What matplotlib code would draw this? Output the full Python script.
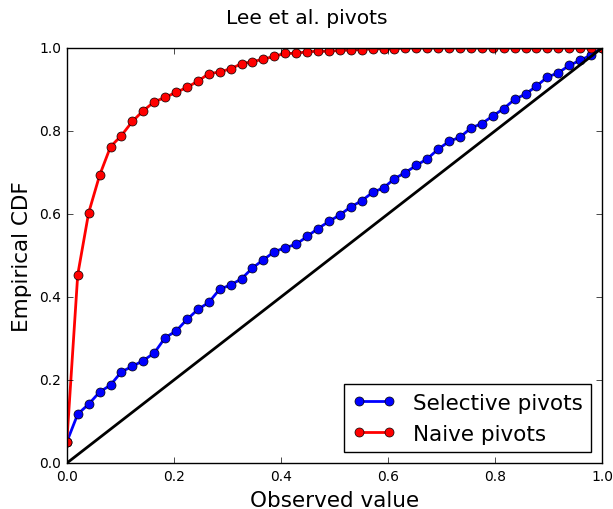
import numpy as np
import matplotlib
matplotlib.use("Agg")
import matplotlib.pyplot as plt

# grid of observed values (50 points from 0 to 1)
grid = np.linspace(0, 1, 50)

# empirical CDF values
selective_cdf = [0.051, 0.118, 0.142, 0.171, 0.188, 0.220, 0.233, 0.247, 0.265, 0.302,
                 0.318, 0.346, 0.370, 0.387, 0.419, 0.429, 0.444, 0.470, 0.490, 0.509,
                 0.519, 0.527, 0.546, 0.565, 0.582, 0.598, 0.617, 0.632, 0.652, 0.663,
                 0.685, 0.700, 0.717, 0.733, 0.756, 0.775, 0.785, 0.807, 0.818, 0.836,
                 0.854, 0.876, 0.889, 0.908, 0.930, 0.940, 0.958, 0.970, 0.983, 1.000]
naive_cdf = [0.051, 0.454, 0.603, 0.693, 0.762, 0.789, 0.823, 0.849, 0.870, 0.881,
             0.893, 0.905, 0.920, 0.938, 0.942, 0.950, 0.962, 0.967, 0.973, 0.980,
             0.987, 0.987, 0.991, 0.992, 0.992, 0.994, 0.995, 0.996, 0.998, 0.998,
             0.998, 1.000, 1.000, 1.000, 1.000, 1.000, 1.000, 1.000, 1.000, 1.000,
             1.000, 1.000, 1.000, 1.000, 1.000, 1.000, 1.000, 1.000, 1.000, 1.000]

plt.style.use('classic')

fig = plt.figure(figsize=(6.13, 5.10), dpi=100, facecolor='white')
ax = fig.add_axes([0.109, 0.090, 0.873, 0.814])

ax.plot(grid, selective_cdf, 'bo-', lw=2, ms=6.5, label='Selective pivots')
ax.plot(grid, naive_cdf, 'ro-', lw=2, ms=6.5, label='Naive pivots')
ax.plot([0, 1], [0, 1], 'k-', lw=2)

ax.set_xlim(0, 1)
ax.set_ylim(0, 1)
ax.tick_params(labelsize=10)
ax.set_xlabel('Observed value', fontsize=15.5)
ax.set_ylabel('Empirical CDF', fontsize=15.5)
fig.suptitle('Lee et al. pivots', fontsize=14.6, y=0.982)
ax.legend(loc='lower right', numpoints=2, fontsize=15.5, fancybox=False)

fig.savefig('out.png', dpi=100, facecolor='white')
